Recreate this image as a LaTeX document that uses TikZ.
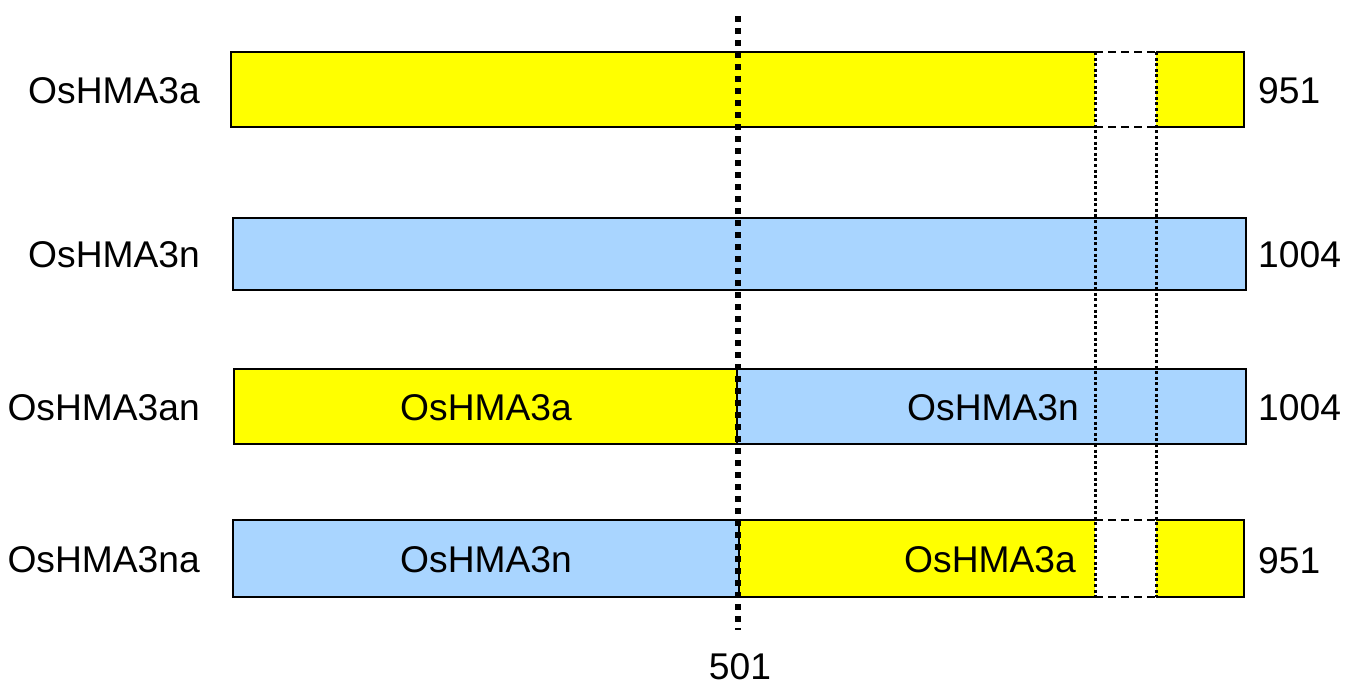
\documentclass[tikz,border=0pt]{standalone}
\usepackage{fontspec}
\setmainfont{Liberation Sans}
\definecolor{ylw}{HTML}{FFFF00}
\definecolor{blu}{HTML}{A9D5FF}
\begin{document}
\begin{tikzpicture}[x=1pt,y=-1pt,
  lbl/.style={font=\fontsize{37.2}{42}\selectfont, inner sep=0pt},
  border/.style={line width=2.5pt, line join=miter},
  gapdash/.style={line width=2.4pt, dash pattern=on 8pt off 5pt},
  thindot/.style={line width=3pt, dash pattern=on 3pt off 2.6pt},
  bigdot/.style={line width=6pt, dash pattern=on 6pt off 6pt}]
\useasboundingbox (0,0) rectangle (1354,689);
% Row 1: OsHMA3a
\fill[ylw] (231,52) rectangle (1244,127);
\fill[white] (1095,52) rectangle (1156,127);
\draw[border] (1095,52) -- (231,52) -- (231,127) -- (1095,127);
\draw[border] (1156,52) -- (1244,52) -- (1244,127) -- (1156,127);
\draw[gapdash] (1095,52) -- (1156,52);
\draw[gapdash] (1095,127) -- (1156,127);
% Row 2: OsHMA3n
\draw[border, fill=blu] (233,218) rectangle (1246,290);
% Row 3: OsHMA3an
\draw[border, fill=ylw] (234,369) rectangle (737,444);
\draw[border, fill=blu] (737,369) rectangle (1246,444);
% Row 4: OsHMA3na
\draw[border, fill=blu] (233,520) rectangle (739,597);
\fill[ylw] (739,520) rectangle (1244,597);
\fill[white] (1095,520) rectangle (1156,597);
\draw[border] (1095,520) -- (739,520) -- (739,597) -- (1095,597);
\draw[border] (1156,520) -- (1244,520) -- (1244,597) -- (1156,597);
\draw[gapdash] (1095,520) -- (1156,520);
\draw[gapdash] (1095,597) -- (1156,597);
% thin dotted guides
\draw[thindot] (1095,52) -- (1095,597);
\draw[thindot] (1156,52) -- (1156,597);
% big dotted line at 501
\draw[bigdot] (738,16) -- (738,630);
% labels
\node[lbl, anchor=east] (l1) at (200,91) {OsHMA3a};
\node[lbl, anchor=east] (l2) at (200,255) {OsHMA3n};
\node[lbl, anchor=east] (l3) at (200,408) {OsHMA3an};
\node[lbl, anchor=east] (l4) at (200,560) {OsHMA3na};
\node[lbl, anchor=west] (r1) at (1258,91) {951};
\node[lbl, anchor=west] (r2) at (1258,255) {1004};
\node[lbl, anchor=west] (r3) at (1258,408) {1004};
\node[lbl, anchor=west] (r4) at (1258,561) {951};
\node[lbl] (i3a) at (486,408) {OsHMA3a};
\node[lbl] (i3b) at (993,408) {OsHMA3n};
\node[lbl] (i4a) at (486,560) {OsHMA3n};
\node[lbl] (i4b) at (990,560) {OsHMA3a};
\node[lbl] (n501) at (740,667) {501};
\end{tikzpicture}
\end{document}
